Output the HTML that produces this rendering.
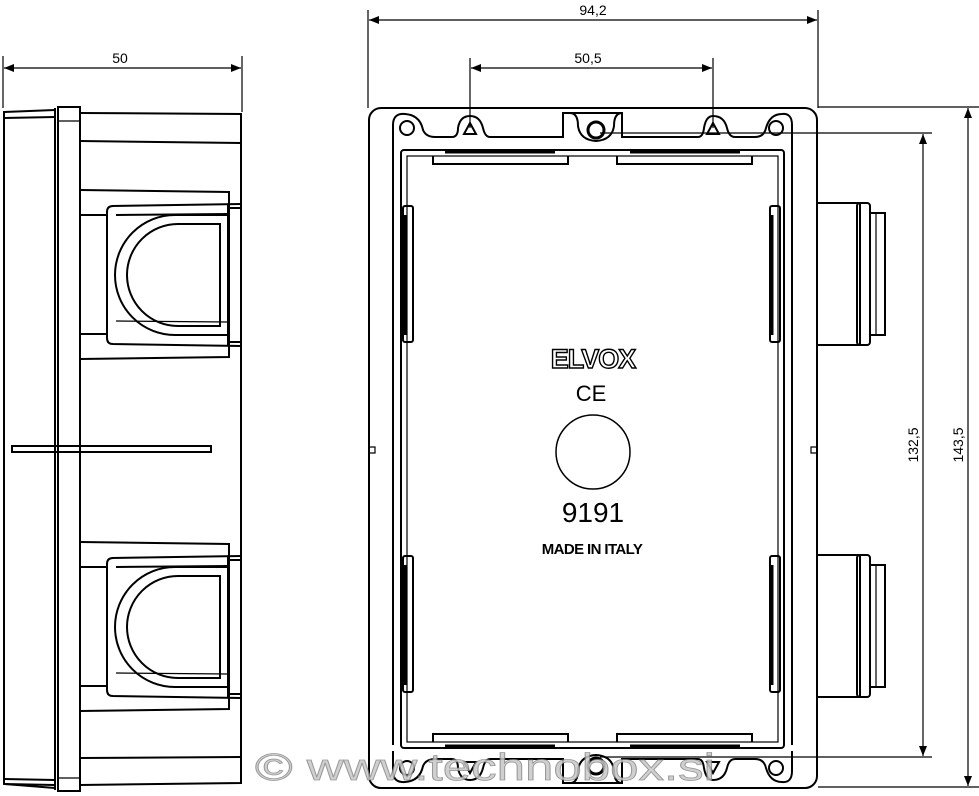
<!DOCTYPE html>
<html><head><meta charset="utf-8"><style>
html,body{margin:0;padding:0;background:#fff;}
svg{display:block;}
text{font-family:"Liberation Sans",sans-serif;}
</style></head><body>
<svg width="979" height="796" viewBox="0 0 979 796" xmlns="http://www.w3.org/2000/svg">
<defs>
<marker id="a" markerWidth="10" markerHeight="8" refX="10" refY="4" orient="auto-start-reverse" markerUnits="userSpaceOnUse"><path d="M0,0 L10,4 L0,8 z" fill="#000"/></marker>
</defs>
<g fill="none" stroke="#000" stroke-width="1.2">
<line x1="3" y1="56" x2="3" y2="108"/><line x1="242" y1="56" x2="242" y2="112"/>
<line x1="4" y1="68" x2="241" y2="68" marker-start="url(#a)" marker-end="url(#a)"/>
<line x1="368" y1="10" x2="368" y2="108"/><line x1="818" y1="10" x2="818" y2="108"/>
<line x1="369" y1="20" x2="817" y2="20" marker-start="url(#a)" marker-end="url(#a)"/>
<line x1="470" y1="58" x2="470" y2="128"/><line x1="713" y1="58" x2="713" y2="128"/>
<line x1="471" y1="68" x2="712" y2="68" marker-start="url(#a)" marker-end="url(#a)"/>
<line x1="818" y1="107" x2="979" y2="107"/><line x1="818" y1="787" x2="979" y2="787"/>
<line x1="600" y1="133" x2="932" y2="133"/><line x1="600" y1="757" x2="932" y2="757"/>
<line x1="923" y1="134" x2="923" y2="756" marker-start="url(#a)" marker-end="url(#a)"/>
<line x1="968" y1="108" x2="968" y2="786" marker-start="url(#a)" marker-end="url(#a)"/>
</g>
<g font-size="14" fill="#000">
<text x="120" y="63" text-anchor="middle">50</text>
<text x="593" y="15" text-anchor="middle">94,2</text>
<text x="588" y="63" text-anchor="middle">50,5</text>
<text transform="translate(918,445) rotate(-90)" text-anchor="middle">132,5</text>
<text transform="translate(963,445) rotate(-90)" text-anchor="middle">143,5</text>
</g>

<g fill="none" stroke="#000" stroke-width="2">
<path d="M4,111 L4,784 L55,788"/>
<line x1="4" y1="112" x2="55" y2="110"/><line x1="4" y1="118" x2="55" y2="117"/>
<line x1="4" y1="779" x2="55" y2="780"/><line x1="4" y1="784" x2="55" y2="785"/>
<line x1="55" y1="108" x2="55" y2="790"/><line x1="58" y1="108" x2="58" y2="790" stroke-width="1.2"/>
<rect x="58" y="107" width="22" height="684"/>
<line x1="58" y1="121" x2="80" y2="121" stroke-width="1.2"/><line x1="58" y1="778" x2="80" y2="778" stroke-width="1.2"/>
<path d="M80,113 L241,114 L241,783 L80,785"/>
<line x1="80" y1="141" x2="241" y2="143"/>
<line x1="80" y1="758" x2="241" y2="757"/>
<path d="M12,446 L211,446 L211,452 L12,452 z"/>
<g id="clip">
<path d="M80,190 L229,192 L229,357 L80,359"/>
<path d="M112,206 L241,204 M112,344 L241,346 M107,212 L107,338 Q107,344 113,344 M107,212 Q107,206 113,206"/>
<line x1="80" y1="215" x2="106" y2="215"/><line x1="80" y1="334" x2="106" y2="334"/>
<line x1="116" y1="215" x2="228" y2="214"/><line x1="116" y1="321" x2="228" y2="322" stroke-width="1.2"/>
<path d="M228,215 L175,215 A60,60 0 0 0 175,335 L228,335"/>
<path d="M220,224 L178,224 A51,51 0 0 0 178,326 L220,326 Z"/>
<line x1="228" y1="205" x2="228" y2="345"/>
<line x1="228" y1="208" x2="241" y2="208"/><line x1="228" y1="342" x2="241" y2="342"/>
</g>
<use href="#clip" transform="translate(0,352)"/>
</g>

<g fill="none" stroke="#000" stroke-width="2">
<rect x="369" y="108" width="448" height="680" rx="12"/>
<g id="topc">
<path d="M393,145 L393,125 Q393,113 405,114 Q420,115 423,130 Q426,137 435,137 L452,137 Q458,137 458,128 Q460,116 470,116 Q480,116 483,128 Q485,137 490,137 L563,137 L563,113 L570,113 Q578,113 578,126 Q580,140 596,141 Q612,140 614,126 Q614,113 622,113 L622,137 L698,137 Q703,137 704,128 Q706,116 713,116 Q724,116 727,128 Q729,137 735,137 L755,137 Q764,137 766,128 Q770,114 782,114 Q792,113 792,125 L792,145"/>
<line x1="563" y1="113" x2="622" y2="113"/>
<circle cx="407" cy="128" r="7"/><circle cx="776" cy="128" r="7"/>
<path d="M464,134 L470,123 L476,134 Z"/><path d="M707,134 L713,123 L719,134 Z"/>
<circle cx="596" cy="130" r="8" stroke-width="3"/>
</g>
<use href="#topc" transform="translate(0,896) scale(1,-1)"/>
<path d="M393,145 L393,745 M792,145 L792,745"/>
<rect x="401" y="150" width="383" height="598" rx="3"/>
<rect x="407" y="156" width="371" height="586" stroke-width="1.2"/>
<path d="M433,156 L433,164 L568,164 L568,156 M617,156 L617,164 L752,164 L752,156"/>
<path d="M445,152 L555,152 M630,152 L740,152" stroke-width="3"/>
<path d="M433,742 L433,734 L568,734 L568,742 M617,742 L617,734 L752,734 L752,742"/>
<path d="M445,746 L555,746 M630,746 L740,746" stroke-width="3"/>
<g id="rail"><rect x="403" y="206" width="10" height="136" rx="2"/><line x1="405" y1="215" x2="405" y2="335" stroke-width="3"/></g>
<use href="#rail" transform="translate(0,350)"/>
<use href="#rail" transform="translate(367,0)"/>
<use href="#rail" transform="translate(367,350)"/>
<path d="M369,447 L375,447 L375,453 L369,453 M817,447 L811,447 L811,453 L817,453" stroke-width="1.2"/>
<g id="ko"><path d="M818,203 L860,203 L860,345 L818,345"/><rect x="857" y="203" width="13" height="142" rx="3"/><path d="M870,213 L885,213 L885,335 L870,335"/><line x1="876" y1="213" x2="876" y2="335" stroke-width="1.2"/></g>
<use href="#ko" transform="translate(0,352)"/>
<circle cx="593" cy="452" r="37" stroke-width="1.5"/>
</g>
<text x="593" y="368" text-anchor="middle" font-size="27" font-weight="bold" fill="#fff" stroke="#000" stroke-width="1.4" letter-spacing="-1">ELVOX</text>
<text x="591" y="401" text-anchor="middle" font-size="22" fill="#000">CE</text>
<text x="593" y="522" text-anchor="middle" font-size="28" fill="#000">9191</text>
<text x="592" y="554" text-anchor="middle" font-size="15" font-weight="bold" fill="#000" letter-spacing="-0.6">MADE IN ITALY</text>
<text x="255" y="780" font-size="38" textLength="460" lengthAdjust="spacingAndGlyphs" fill="#c8c8c8" stroke="#888" stroke-width="0.8" opacity="0.85">© www.technobox.si</text>
</svg>
</body></html>
